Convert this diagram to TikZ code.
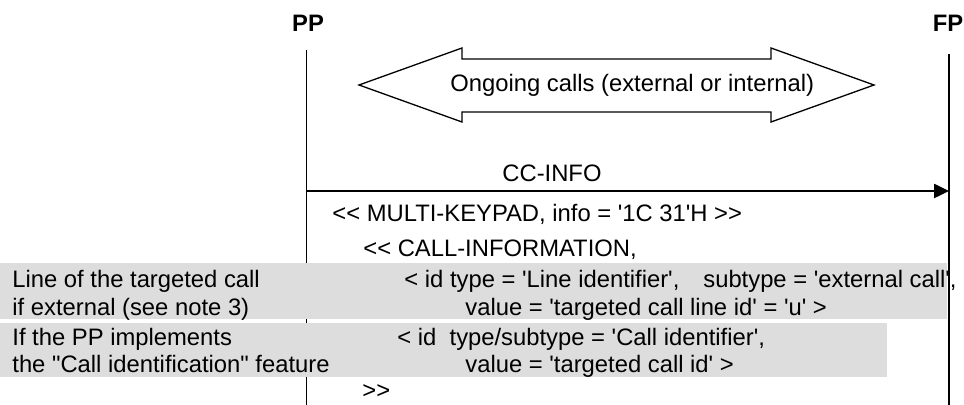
\documentclass[tikz,border=0pt]{standalone}
\usepackage{fontspec}
\setmainfont{Liberation Sans}[Ligatures=TeXOff]
\usetikzlibrary{arrows.meta}
\definecolor{bandgray}{RGB}{221,221,221}
\begin{document}
\begin{tikzpicture}[x=0.5pt,y=-0.5pt,
  txt/.style={font=\fontsize{11.9pt}{14pt}\selectfont, inner sep=0pt, anchor=base west},
  entity/.style={font=\fontsize{11.9pt}{14pt}\selectfont\bfseries, inner sep=0pt, anchor=base},
  lifeline/.style={line width=0.5pt},
  fplifeline/.style={line width=0.85pt},
  band/.style={fill=bandgray},
  msg/.style={line width=1.25pt, -{Triangle[length=7.5pt,width=7pt]}},
  bigarrow/.style={line width=0.65pt, line join=miter}]

% frame
\useasboundingbox (0,0) rectangle (964,405);

% entities and lifelines
\node[entity] (pp) at (308,32) {PP};
\node[entity] (fp) at (948,32) {FP};
\coordinate (ppTop) at (306,50);
\coordinate (ppBot) at (306,405);
\coordinate (fpTop) at (949,54);
\coordinate (fpBot) at (949,405);
\draw[lifeline] (ppTop) -- (ppBot);

% ongoing calls double arrow
\draw[bigarrow] (359,85) -- (462,48) -- (462,59) -- (771,59) -- (771,48)
  -- (874,85) -- (771,122) -- (771,112) -- (462,112) -- (462,122) -- cycle;
\node[txt] (ongoing) at (450,92) {Ongoing calls (external or internal)};

% highlighted conditions
\fill[band] (0,263) rectangle (947,319);
\fill[band] (0,323) rectangle (887,377);

\draw[fplifeline] (fpTop) -- (fpBot);

% CC-INFO message
\coordinate (ppMsg) at (306,191);
\coordinate (fpMsg) at (949,191);
\draw[msg] (ppMsg) -- (fpMsg);
\node[txt] (ccinfo) at (502,182) {CC-INFO};

% message contents
\node[txt] (keypad) at (332,222) {<< MULTI-KEYPAD, info = '1C 31'H >>};
\node[txt] (callinfo) at (363,257) {<< CALL-INFORMATION,};
\node[txt] (lineA) at (404,288) {< id type = 'Line identifier',\hspace{12pt}subtype = 'external call',};
\node[txt] (lineB) at (465,316) {value = 'targeted call line id' = 'u' >};
\node[txt] (callA) at (397,346) {< id\ \ type/subtype = 'Call identifier',};
\node[txt] (callB) at (465,373) {value = 'targeted call id' >};
\node[txt] (close) at (362,399) {>>};

% condition notes
\node[txt] (noteA1) at (12,288) {Line of the targeted call};
\node[txt] (noteA2) at (12,316) {if external (see note 3)};
\node[txt] (noteB1) at (12,346) {If the PP implements};
\node[txt] (noteB2) at (12,373) {the "Call identification" feature};
\end{tikzpicture}
\end{document}
